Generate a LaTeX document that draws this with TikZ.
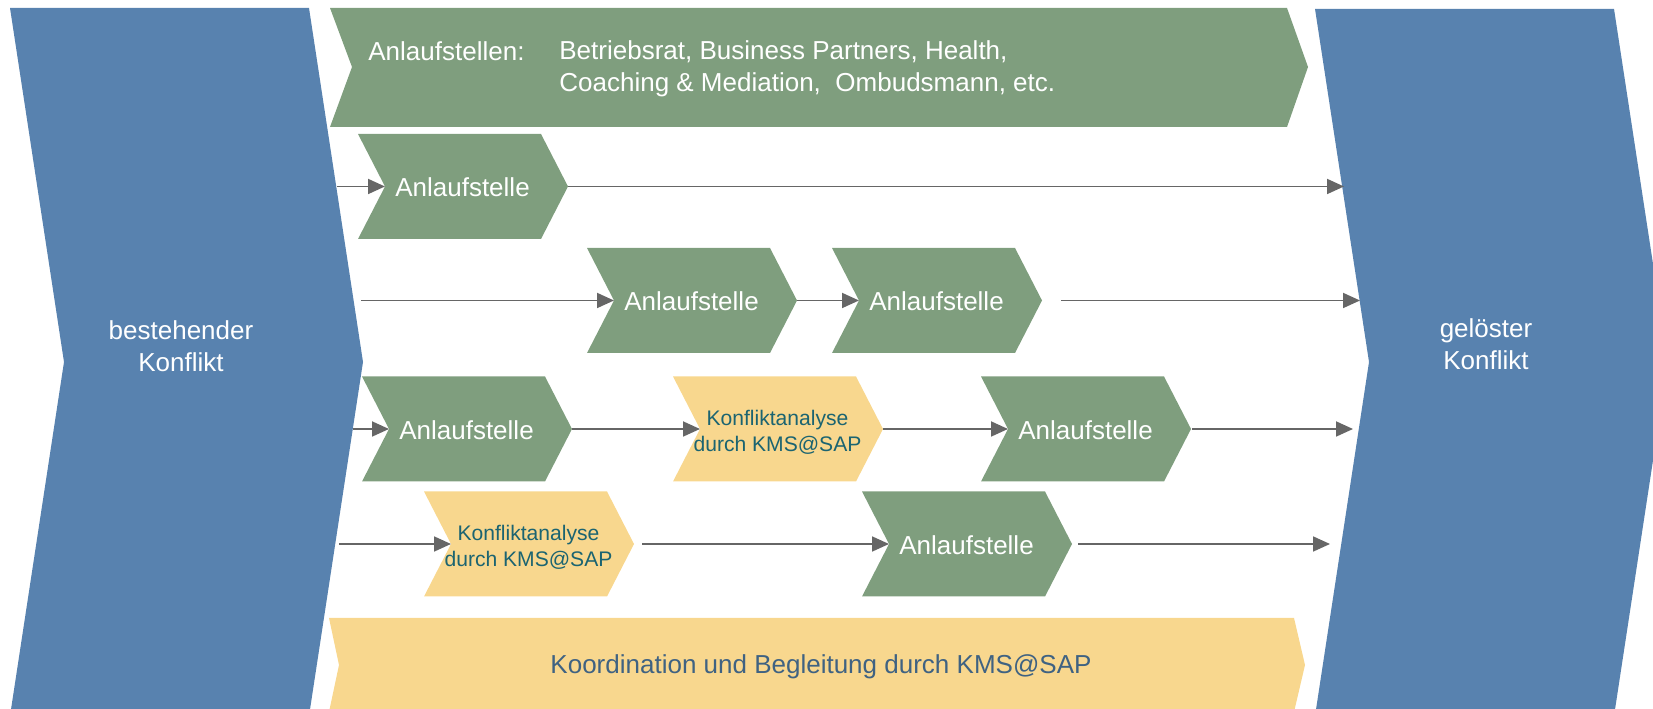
\documentclass[tikz,border=0pt]{standalone}
\usepackage{fontspec}
\setmainfont{Liberation Sans}
\usetikzlibrary{arrows.meta}

\definecolor{kblue}{HTML}{5882AF}
\definecolor{kgreen}{HTML}{7F9E7E}
\definecolor{kyellow}{HTML}{F8D78E}
\definecolor{kteal}{HTML}{1B6471}
\definecolor{kslate}{HTML}{3F6282}
\definecolor{kgray}{HTML}{666666}

\tikzset{
  flow/.style={draw=kgray, line width=0.036cm, -{Triangle[length=0.34cm,width=0.30cm]}},
  bigtext/.style={font=\fontsize{14.8}{18.2}\selectfont, inner sep=0pt},
  smalltext/.style={font=\fontsize{12}{14.8}\selectfont, inner sep=0pt, text=kteal, align=center},
}

\begin{document}
\begin{tikzpicture}
                    \useasboundingbox (0,0) rectangle (33.06,14.18);
                    \clip (0,0) rectangle (33.06,14.18);
                    {

                    % Drawing band bestehender Konflikt
                    \fill [kblue] (0.20,14.02) -- (6.18,14.02) -- (7.26,6.94) -- (6.18,-0.14) -- (0.20,-0.14) -- (1.28,6.94) -- cycle;%
                    \node [bigtext, text=white, align=center] (alt) at (3.62,7.26) {bestehender\\Konflikt};%

                    % Drawing band geloester Konflikt
                    \fill [kblue] (26.30,14.00) -- (32.28,14.00) -- (33.36,6.94) -- (32.28,-0.14) -- (26.30,-0.14) -- (27.38,6.94) -- cycle;%
                    \node [bigtext, text=white, align=center] (neu) at (29.72,7.29) {gelöster\\Konflikt};%

                    % Drawing banner Anlaufstellen
                    \fill [kgreen] (6.60,14.02) -- (25.74,14.02) -- (26.16,12.84) -- (25.74,11.64) -- (6.60,11.64) -- (7.04,12.84) -- cycle;%
                    \node [bigtext, text=white, anchor=base west] (liste) at (7.36,12.96) {Anlaufstellen:};%
                    \node [bigtext, text=white, anchor=west, align=left] (stellen) at (11.18,12.81) {Betriebsrat, Business Partners, Health,\\Coaching \& Mediation,\ \ Ombudsmann, etc.};%

                    % Drawing banner Koordination
                    \fill [kyellow] (6.58,1.82) -- (25.88,1.82) -- (26.10,0.88) -- (25.88,-0.06) -- (6.58,-0.06) -- (6.78,0.88) -- cycle;%
                    \node [bigtext, text=kslate, anchor=base] (koord) at (16.42,0.70) {Koordination und Begleitung durch KMS@SAP};%

                    % Row 1
                    \fill [kgreen] (7.16,11.50) -- (10.82,11.50) -- (11.36,10.45) -- (10.82,9.40) -- (7.16,9.40) -- (7.70,10.45) -- cycle;%
                    \node [bigtext, text=white, anchor=base] (anl1) at (9.25,10.24) {Anlaufstelle};%
                    \coordinate (anl1-in) at (7.70,10.45);%
                    \coordinate (anl1-out) at (11.36,10.45);%
                    \coordinate (r1-start) at (6.74,10.45);%
                    \coordinate (r1-end) at (26.88,10.45);%

                    % Row 2
                    \fill [kgreen] (11.74,9.22) -- (15.40,9.22) -- (15.94,8.17) -- (15.40,7.12) -- (11.74,7.12) -- (12.28,8.17) -- cycle;%
                    \node [bigtext, text=white, anchor=base] (anl2) at (13.83,7.96) {Anlaufstelle};%
                    \coordinate (anl2-in) at (12.28,8.17);%
                    \coordinate (anl2-out) at (15.94,8.17);%
                    \fill [kgreen] (16.64,9.22) -- (20.30,9.22) -- (20.84,8.17) -- (20.30,7.12) -- (16.64,7.12) -- (17.18,8.17) -- cycle;%
                    \node [bigtext, text=white, anchor=base] (anl3) at (18.73,7.96) {Anlaufstelle};%
                    \coordinate (anl3-in) at (17.18,8.17);%
                    \coordinate (anl3-out) at (21.22,8.17);%
                    \coordinate (r2-start) at (7.22,8.17);%
                    \coordinate (r2-end) at (27.20,8.17);%

                    % Row 3
                    \fill [kgreen] (7.24,6.65) -- (10.90,6.65) -- (11.44,5.60) -- (10.90,4.55) -- (7.24,4.55) -- (7.78,5.60) -- cycle;%
                    \node [bigtext, text=white, anchor=base] (anl4) at (9.33,5.39) {Anlaufstelle};%
                    \coordinate (anl4-in) at (7.78,5.60);%
                    \coordinate (anl4-out) at (11.44,5.60);%
                    \fill [kyellow] (13.46,6.65) -- (17.12,6.65) -- (17.66,5.60) -- (17.12,4.55) -- (13.46,4.55) -- (14.00,5.60) -- cycle;%
                    \node [smalltext] (kma1) at (15.55,5.54) {Konfliktanalyse\\durch KMS@SAP};%
                    \coordinate (kma1-in) at (14.00,5.60);%
                    \coordinate (kma1-out) at (17.66,5.60);%
                    \fill [kgreen] (19.62,6.65) -- (23.28,6.65) -- (23.82,5.60) -- (23.28,4.55) -- (19.62,4.55) -- (20.16,5.60) -- cycle;%
                    \node [bigtext, text=white, anchor=base] (anl5) at (21.71,5.39) {Anlaufstelle};%
                    \coordinate (anl5-in) at (20.16,5.60);%
                    \coordinate (anl5-out) at (23.84,5.60);%
                    \coordinate (r3-start) at (7.06,5.60);%
                    \coordinate (r3-end) at (27.06,5.60);%

                    % Row 4
                    \fill [kyellow] (8.48,4.35) -- (12.14,4.35) -- (12.68,3.30) -- (12.14,2.25) -- (8.48,2.25) -- (9.02,3.30) -- cycle;%
                    \node [smalltext] (kma2) at (10.57,3.24) {Konfliktanalyse\\durch KMS@SAP};%
                    \coordinate (kma2-in) at (9.02,3.30);%
                    \coordinate (kma2-out) at (12.84,3.30);%
                    \fill [kgreen] (17.24,4.35) -- (20.90,4.35) -- (21.44,3.30) -- (20.90,2.25) -- (17.24,2.25) -- (17.78,3.30) -- cycle;%
                    \node [bigtext, text=white, anchor=base] (anl6) at (19.33,3.09) {Anlaufstelle};%
                    \coordinate (anl6-in) at (17.78,3.30);%
                    \coordinate (anl6-out) at (21.56,3.30);%
                    \coordinate (r4-start) at (6.78,3.30);%
                    \coordinate (r4-end) at (26.60,3.30);%

                    % Drawing the paths
                    \draw [flow] (r1-start) -- (anl1-in);%
                    \draw [flow] (anl1-out) -- (r1-end);%
                    \draw [flow] (r2-start) -- (anl2-in);%
                    \draw [flow] (anl2-out) -- (anl3-in);%
                    \draw [flow] (anl3-out) -- (r2-end);%
                    \draw [flow] (r3-start) -- (anl4-in);%
                    \draw [flow] (anl4-out) -- (kma1-in);%
                    \draw [flow] (kma1-out) -- (anl5-in);%
                    \draw [flow] (anl5-out) -- (r3-end);%
                    \draw [flow] (r4-start) -- (kma2-in);%
                    \draw [flow] (kma2-out) -- (anl6-in);%
                    \draw [flow] (anl6-out) -- (r4-end);%
                    }
\end{tikzpicture}
\end{document}
